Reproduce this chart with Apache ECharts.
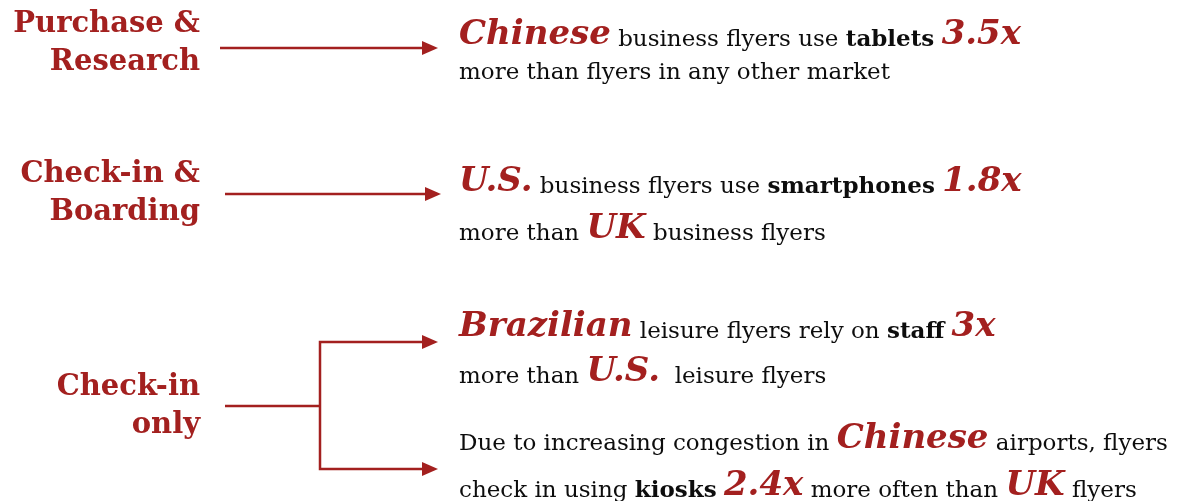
<!DOCTYPE html>
<html lang="en">
<head>
    <meta charset="UTF-8">
    <title>Flyer insights</title>
    <script src="https://cdn.jsdelivr.net/npm/echarts@6/dist/echarts.min.js"></script>
    <style>
        html, body { margin: 0; padding: 0; background: #fff; }
        #main { width: 1186px; height: 501px; }
    </style>
</head>
<body>
<div id="main"></div>
<script>
    // stage labels on the left
    const stageLabels = ['Purchase &\nResearch', 'Check-in &\nBoarding', 'Check-in\nonly'];
    // multipliers quoted in the statements
    const multipliers = ['3.5x', '1.8x', '3x', '2.4x'];
    // markets highlighted in red
    const markets = ['Chinese', 'U.S.', 'UK', 'Brazilian', 'U.S.', 'Chinese', 'UK'];
    // channels in bold
    const channels = ['tablets', 'smartphones', 'staff', 'kiosks'];

    // statement lines, built from the arrays above
    const statementLines = [
        '{hl|' + markets[0] + '}{n| business flyers use }{b|' + channels[0] + '}{n| }{num|' + multipliers[0] + '}',
        '{n|more than flyers in any other market}',
        '{hl|' + markets[1] + '}{n| business flyers use }{b|' + channels[1] + '}{n| }{num|' + multipliers[1] + '}',
        '{n|more than }{hl|' + markets[2] + '}{n| business flyers}',
        '{hl|' + markets[3] + '}{n| leisure flyers rely on }{b|' + channels[2] + '}{n| }{num|' + multipliers[2] + '}',
        '{n|more than }{hl|' + markets[4] + '}{n|  leisure flyers}',
        '{n|Due to increasing congestion in }{hl|' + markets[5] + '}{n| airports, flyers}',
        '{n|check in using }{b|' + channels[3] + '}{n| }{num|' + multipliers[3] + '}{n| more often than }{hl|' + markets[6] + '}{n| flyers}'
    ];
    // bottom y of each statement line
    const lineY = [52, 85, 199, 246, 344, 389, 456, 503];
    // centre y of each stage label block
    const stageY = [43, 193, 406];

    const red = '#A3201F';
    const serif = '"DejaVu Serif", serif';
    const rich = {
        n:   { fontFamily: serif, fontSize: 23, fill: '#0d0d0d', verticalAlign: 'bottom', lineHeight: 40 },
        b:   { fontFamily: serif, fontSize: 23, fontWeight: 'bold', fill: '#0d0d0d', verticalAlign: 'bottom', lineHeight: 40 },
        hl:  { fontFamily: serif, fontSize: 34, fontWeight: 'bold', fontStyle: 'italic', fill: red, verticalAlign: 'bottom', lineHeight: 46 },
        num: { fontFamily: serif, fontSize: 34, fontWeight: 'bold', fontStyle: 'italic', fill: red, verticalAlign: 'bottom', lineHeight: 46 }
    };

    const elements = [];
    stageLabels.forEach(function (lbl, i) {
        elements.push({
            type: 'text',
            x: 200, y: stageY[i],
            style: {
                text: lbl, fill: red,
                font: 'bold 29px ' + serif,
                textAlign: 'right', textVerticalAlign: 'middle',
                align: 'right', verticalAlign: 'middle',
                lineHeight: 38
            }
        });
    });
    statementLines.forEach(function (t, i) {
        elements.push({
            type: 'text',
            x: 459, y: lineY[i],
            style: {
                text: t, rich: rich,
                textAlign: 'left', textVerticalAlign: 'bottom',
                align: 'left', verticalAlign: 'bottom'
            }
        });
    });

    const lineStyle = { stroke: red, lineWidth: 2.5, fill: null };
    function arrowHead(xTip, y) {
        return {
            type: 'polygon',
            shape: { points: [[xTip, y], [xTip - 16, y - 7], [xTip - 16, y + 7]] },
            style: { fill: red }
        };
    }
    // connectors
    elements.push({ type: 'line', shape: { x1: 220, y1: 48, x2: 425, y2: 48 }, style: lineStyle });
    elements.push(arrowHead(438, 48));
    elements.push({ type: 'line', shape: { x1: 225, y1: 194, x2: 428, y2: 194 }, style: lineStyle });
    elements.push(arrowHead(441, 194));
    elements.push({ type: 'line', shape: { x1: 225, y1: 406, x2: 320, y2: 406 }, style: lineStyle });
    elements.push({ type: 'polyline', shape: { points: [[425, 342], [320, 342], [320, 469], [425, 469]] }, style: lineStyle });
    elements.push(arrowHead(438, 342));
    elements.push(arrowHead(438, 469));

    const myChart = echarts.init(document.getElementById('main'));
    myChart.setOption({
        backgroundColor: '#fff',
        animation: false,
        graphic: { elements: elements }
    });
</script>
</body>
</html>
